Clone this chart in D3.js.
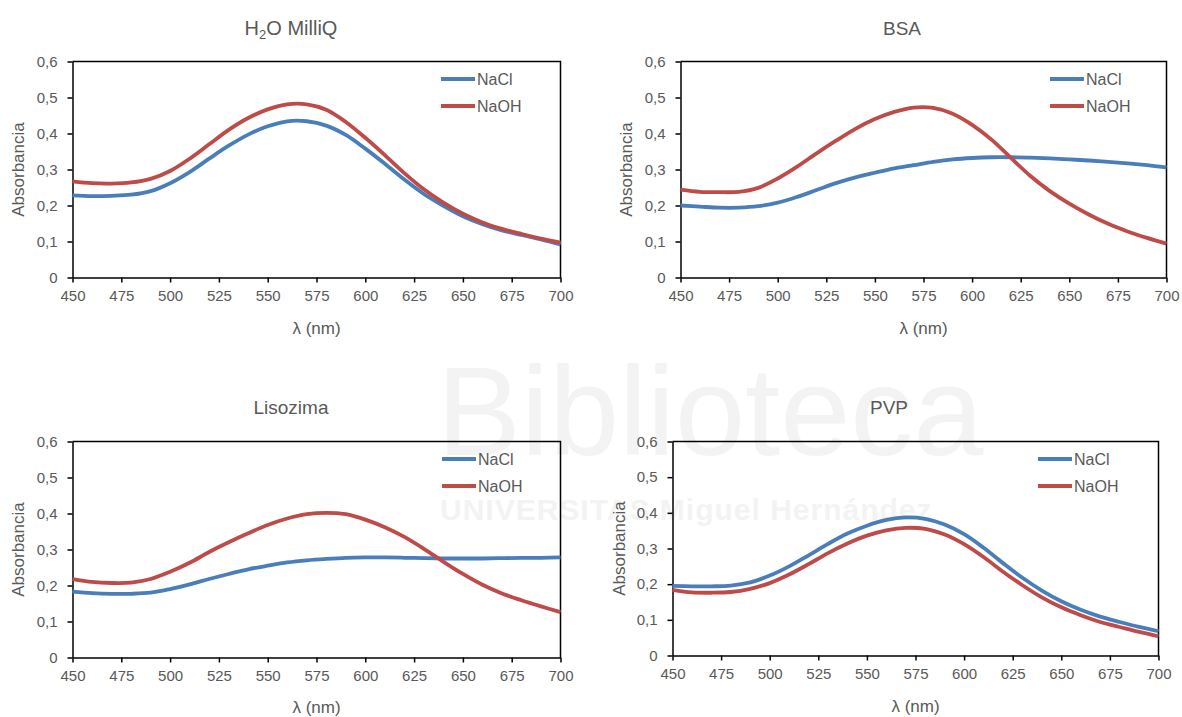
<!DOCTYPE html>
<html>
<head>
<meta charset="utf-8">
<script src="https://cdn.jsdelivr.net/npm/d3@7"></script>
<style>
  html, body { margin: 0; padding: 0; background: #fff; }
  svg { display: block; }
  text { font-family: "Liberation Sans", Arial, sans-serif; }
</style>
</head>
<body>
<svg id="chart" width="1182" height="717"></svg>
<script>
// ---------- DATA ----------
const wavelengths = [450,460,470,480,490,500,510,520,530,540,550,560,570,580,590,600,610,620,630,640,650,660,670,680,690,700];
const xTicks = [450,475,500,525,550,575,600,625,650,675,700];
const yTicks = [0,0.1,0.2,0.3,0.4,0.5,0.6];
const seriesNames = ["NaCl", "NaOH"];
const panelTitles = ["H2O MilliQ", "BSA", "Lisozima", "PVP"];

const h2oNaCl = [0.228,0.226,0.227,0.230,0.240,0.262,0.293,0.330,0.366,0.397,0.420,0.434,0.434,0.422,0.396,0.358,0.316,0.272,0.232,0.199,0.170,0.148,0.131,0.118,0.106,0.092];
const h2oNaOH = [0.267,0.262,0.261,0.264,0.274,0.296,0.330,0.370,0.410,0.443,0.467,0.481,0.481,0.466,0.432,0.388,0.340,0.290,0.245,0.208,0.177,0.153,0.135,0.121,0.108,0.097];

const bsaNaCl = [0.200,0.197,0.194,0.194,0.198,0.208,0.224,0.243,0.262,0.278,0.291,0.303,0.312,0.321,0.328,0.332,0.334,0.334,0.333,0.331,0.328,0.325,0.321,0.317,0.312,0.306];
const bsaNaOH = [0.244,0.238,0.237,0.238,0.249,0.275,0.308,0.345,0.380,0.413,0.440,0.460,0.472,0.471,0.455,0.424,0.383,0.332,0.282,0.240,0.205,0.175,0.149,0.128,0.110,0.094];

const lisoNaCl = [0.183,0.179,0.177,0.177,0.180,0.190,0.203,0.218,0.232,0.245,0.255,0.264,0.270,0.274,0.277,0.278,0.278,0.277,0.276,0.275,0.275,0.275,0.276,0.277,0.277,0.278];
const lisoNaOH = [0.218,0.210,0.207,0.208,0.218,0.238,0.263,0.293,0.320,0.345,0.368,0.386,0.398,0.402,0.398,0.383,0.362,0.335,0.302,0.266,0.232,0.202,0.178,0.159,0.142,0.126];

const pvpNaCl = [0.195,0.194,0.194,0.196,0.205,0.224,0.250,0.281,0.313,0.342,0.364,0.380,0.387,0.383,0.367,0.340,0.302,0.259,0.218,0.182,0.152,0.128,0.109,0.094,0.080,0.068];
const pvpNaOH = [0.184,0.177,0.176,0.178,0.187,0.203,0.227,0.256,0.287,0.314,0.336,0.351,0.358,0.355,0.339,0.312,0.276,0.235,0.197,0.163,0.135,0.113,0.094,0.080,0.066,0.054];

// ---------- LAYOUT ----------
const colors = ["#4A7EBB", "#BE4B48"];
const textColor = "#595959";

const panels = [
  { title: panelTitles[0], data: [h2oNaCl, h2oNaOH], left: 72.5, right: 560.5, top: 61.5, bottom: 277.5,
    titleX: 291, titleY: 35, legX: 441, legY: 79, ylabX: 18, xlabY: 334 },
  { title: panelTitles[1], data: [bsaNaCl, bsaNaOH], left: 680.5, right: 1166.5, top: 61.5, bottom: 277.5,
    titleX: 902, titleY: 35, legX: 1050, legY: 79, ylabX: 626, xlabY: 334 },
  { title: panelTitles[2], data: [lisoNaCl, lisoNaOH], left: 72.5, right: 560.5, top: 441.5, bottom: 657.5,
    titleX: 291, titleY: 414, legX: 442, legY: 459, ylabX: 18, xlabY: 713 },
  { title: panelTitles[3], data: [pvpNaCl, pvpNaOH], left: 672.5, right: 1158.5, top: 441.5, bottom: 655.5,
    titleX: 889, titleY: 414, legX: 1038, legY: 459, ylabX: 619, xlabY: 712 }
];

const svg = d3.select("#chart");

// very faint watermark (part of the reference picture)
const wm = svg.append("g").attr("class", "watermark").attr("pointer-events", "none");
wm.append("text").attr("x", 437).attr("y", 455).attr("font-size", 126)
  .attr("fill", "#f3f3f3").text("Biblioteca");
wm.append("text").attr("x", 440).attr("y", 520).attr("font-size", 30).attr("font-weight", "bold")
  .attr("fill", "#f3f3f3").attr("letter-spacing", 1).text("UNIVERSITAS Miguel Hernández");

const fmt = v => v === 0 ? "0" : d3.format(".1f")(v).replace(".", ",");

panels.forEach(p => {
  const g = svg.append("g");
  const x = d3.scaleLinear().domain([450, 700]).range([p.left, p.right]);
  const y = d3.scaleLinear().domain([0, 0.6]).range([p.bottom, p.top]);

  // Title
  const t = g.append("text").attr("x", p.titleX).attr("y", p.titleY)
    .attr("text-anchor", "middle").attr("font-size", 19).attr("fill", textColor);
  if (p.title === "H2O MilliQ") {
    t.attr("font-size", 20);
    t.append("tspan").text("H");
    t.append("tspan").attr("font-size", 13).attr("dy", 4).text("2");
    t.append("tspan").attr("dy", -4).text("O MilliQ");
  } else {
    t.text(p.title);
  }

  // Axes
  const xAxis = d3.axisBottom(x).tickValues(xTicks).tickSize(5).tickSizeOuter(0).tickPadding(8);
  const yAxis = d3.axisLeft(y).tickValues(yTicks).tickSize(5).tickSizeOuter(0).tickPadding(10).tickFormat(fmt);

  const gx = g.append("g").attr("transform", `translate(0,${p.bottom})`).call(xAxis);
  const gy = g.append("g").attr("transform", `translate(${p.left},0)`).call(yAxis);
  [gx, gy].forEach(a => {
    a.select(".domain").attr("stroke", "#000").attr("stroke-width", 1.5);
    a.selectAll(".tick line").attr("stroke", "#000").attr("stroke-width", 1.5);
    a.selectAll(".tick text").attr("font-size", 15).attr("fill", textColor)
      .attr("font-family", "'Liberation Sans', Arial, sans-serif");
  });

  // Frame (top and right sides)
  g.append("path")
    .attr("d", `M${p.left},${p.top}H${p.right}V${p.bottom}`)
    .attr("fill", "none").attr("stroke", "#000").attr("stroke-width", 1.5);

  // Lines
  const line = d3.line()
    .x((d, i) => x(wavelengths[i]))
    .y(d => y(d))
    .curve(d3.curveCatmullRom.alpha(0.5));

  p.data.forEach((vals, si) => {
    g.append("path").datum(vals)
      .attr("d", line)
      .attr("fill", "none")
      .attr("stroke", colors[si])
      .attr("stroke-width", 3.8)
      .attr("stroke-linejoin", "round");
  });

  // Legend
  seriesNames.forEach((name, si) => {
    const ly = p.legY + si * 27;
    g.append("line").attr("x1", p.legX).attr("x2", p.legX + 34)
      .attr("y1", ly).attr("y2", ly)
      .attr("stroke", colors[si]).attr("stroke-width", 3.8);
    g.append("text").attr("x", p.legX + 36).attr("y", ly + 6)
      .attr("font-size", 16).attr("fill", textColor).text(name);
  });

  // Axis labels
  g.append("text").attr("x", (p.left + p.right) / 2).attr("y", p.xlabY)
    .attr("text-anchor", "middle").attr("font-size", 17).attr("fill", textColor).text("λ (nm)");
  g.append("text")
    .attr("transform", `translate(${p.ylabX + 6},${(p.top + p.bottom) / 2}) rotate(-90)`)
    .attr("text-anchor", "middle").attr("font-size", 17).attr("fill", textColor).text("Absorbancia");
});
</script>
</body>
</html>
